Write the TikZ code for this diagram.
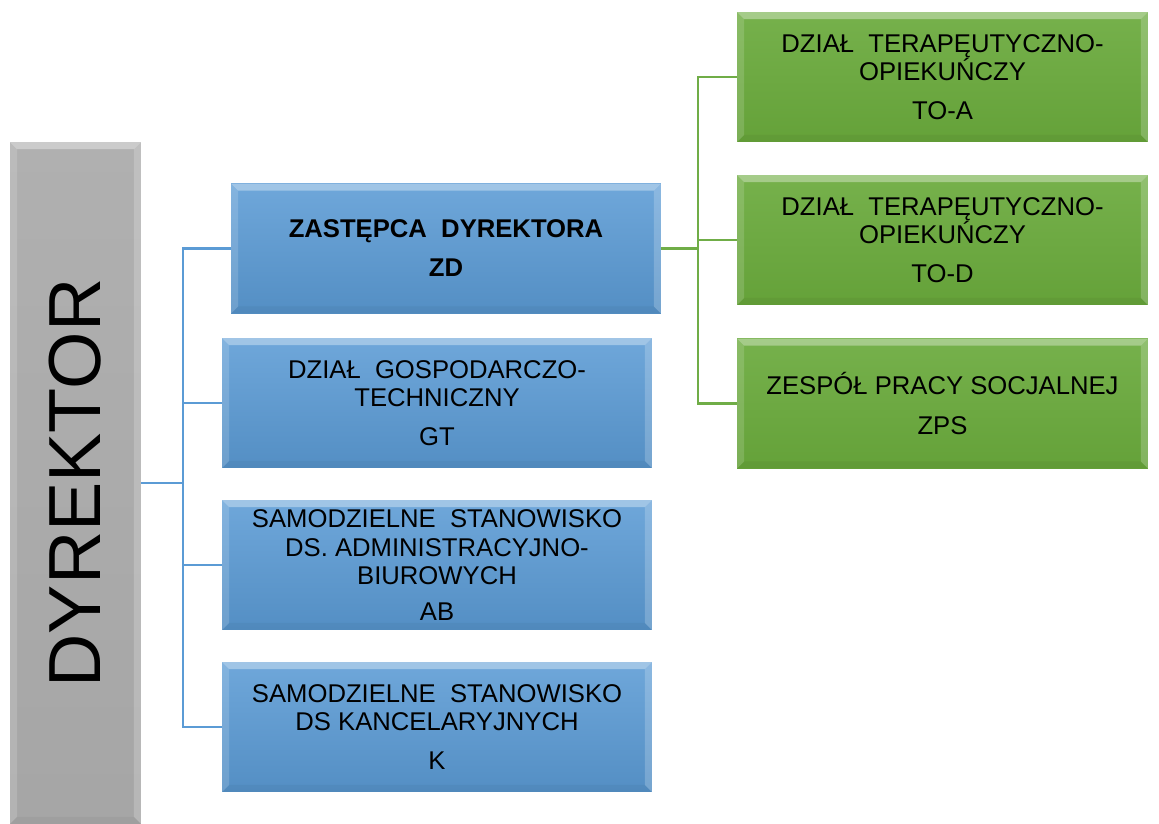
\documentclass[tikz,border=0pt]{standalone}
\usepackage{fontspec}
\setmainfont{Liberation Sans}
\usepackage{xcolor}
\definecolor{boxblue}{HTML}{5B9BD5}
\definecolor{boxgreen}{HTML}{6AAA3C}
\definecolor{linkblue}{HTML}{5B9BD5}
\definecolor{linkgreen}{HTML}{70AD47}
\begin{document}
\begin{tikzpicture}[x=0.02cm,y=-0.02cm,
    bevel/.style={path picture={
        \fill[white,opacity=0.35] (path picture bounding box.north west) -- (path picture bounding box.north east)
            -- ([xshift=-4pt,yshift=-4pt]path picture bounding box.north east) -- ([xshift=4pt,yshift=-4pt]path picture bounding box.north west) -- cycle;
        \fill[white,opacity=0.15] (path picture bounding box.north west) -- ([xshift=4pt,yshift=-4pt]path picture bounding box.north west)
            -- ([xshift=4pt,yshift=4pt]path picture bounding box.south west) -- (path picture bounding box.south west) -- cycle;
        \fill[white,opacity=0.2] (path picture bounding box.north east) -- ([xshift=-4pt,yshift=-4pt]path picture bounding box.north east)
            -- ([xshift=-4pt,yshift=4pt]path picture bounding box.south east) -- (path picture bounding box.south east) -- cycle;
        \fill[black,opacity=0.04] (path picture bounding box.south west) -- (path picture bounding box.south east)
            -- ([xshift=-4pt,yshift=4pt]path picture bounding box.south east) -- ([xshift=4pt,yshift=4pt]path picture bounding box.south west) -- cycle;}},
    unitbox/.style={bevel,rectangle,inner sep=2pt,align=center,
        font=\fontsize{14.6}{16.2}\selectfont,text=black},
    bluebox/.style={unitbox,top color=boxblue!88!white,bottom color=boxblue!92!black,
        minimum width=8.6cm,minimum height=2.6cm},
    greenbox/.style={unitbox,top color=boxgreen!92!white,bottom color=boxgreen!95!black,
        minimum width=8.22cm,minimum height=2.6cm},
    bluelink/.style={draw=linkblue,line width=1.2pt},
    greenlink/.style={draw=linkgreen,line width=1.2pt}]
\useasboundingbox (0,0) rectangle (1159,824);

% director
\node[bevel,rectangle,top color=gray!62,bottom color=gray!70,minimum width=2.62cm,minimum height=13.64cm,
      font=\fontsize{42}{42}\selectfont] (dyr) at (75.5,483) {\rotatebox{90}{DYREKTOR}};

% units under the director
\node[bluebox] (zd) at (446,248.5) {\textbf{ZASTĘPCA\ \ DYREKTORA}\\[6pt]\textbf{ZD}};
\node[bluebox] (gt) at (437,403) {DZIAŁ\ \ GOSPODARCZO-\\TECHNICZNY\\[6pt]GT};
\node[bluebox] (ab) at (437,565) {SAMODZIELNE\ \ STANOWISKO\\DS. ADMINISTRACYJNO-\\BIUROWYCH\\[4pt]AB};
\node[bluebox] (k) at (437,727) {SAMODZIELNE\ \ STANOWISKO\\DS KANCELARYJNYCH\\[6pt]K};

% units under the deputy
\node[greenbox] (toa) at (942.5,77) {DZIAŁ\ \ TERAPĘUTYCZNO-\\OPIEKUŃCZY\\[6pt]TO-A};
\node[greenbox] (tod) at (942.5,240) {DZIAŁ\ \ TERAPĘUTYCZNO-\\OPIEKUŃCZY\\[6pt]TO-D};
\node[greenbox] (zps) at (942.5,403.5) {ZESPÓŁ PRACY SOCJALNEJ\\[6pt]ZPS};

\coordinate (dbr) at (183,483);
\coordinate (zbr) at (698,248.5);

\foreach \u in {zd,gt,ab,k}
    \draw[bluelink] (dyr.east) -- (dbr) |- (\u.west);
\foreach \u in {toa,tod,zps}
    \draw[greenlink] (zd.east) -- (zbr) |- (\u.west);
\end{tikzpicture}
\end{document}
